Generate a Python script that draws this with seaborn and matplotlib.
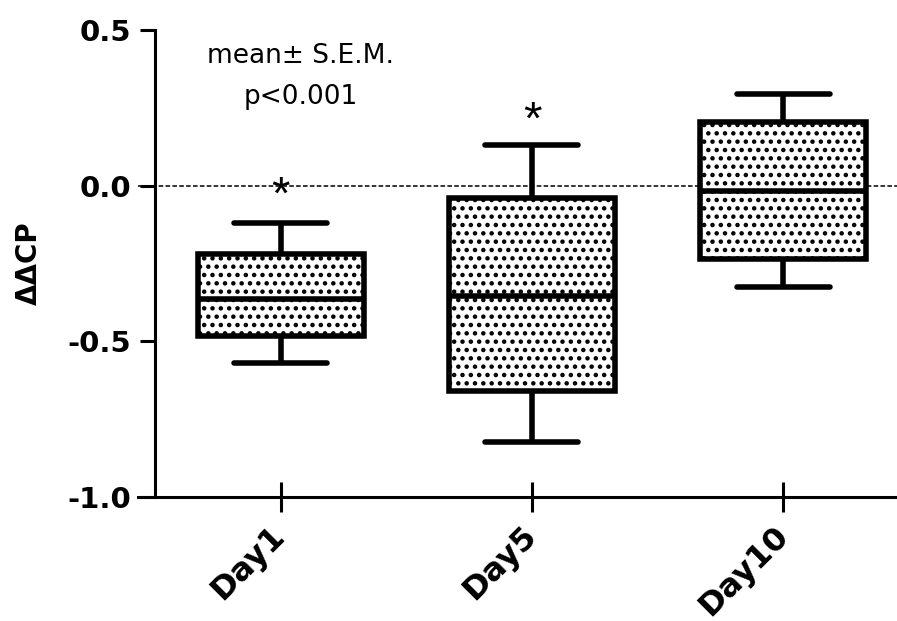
import matplotlib
matplotlib.use("Agg")
import matplotlib.pyplot as plt
import seaborn as sns
import pandas as pd

days = ["Day1", "Day5", "Day10"]
# five-number summaries: whisker low, q1, median, q3, whisker high
day1_vals = [-0.571, -0.482, -0.363, -0.218, -0.119]
day5_vals = [-0.822, -0.658, -0.353, -0.039, 0.130]
day10_vals = [-0.324, -0.234, -0.016, 0.205, 0.295]
star_days = ["Day1", "Day5"]
star_y = [-0.035, 0.205]
note_lines = ["mean\u00b1 S.E.M.", "p<0.001"]

sns.set_style("ticks")
plt.rcParams["font.family"] = ["DejaVu Sans"]
plt.rcParams["hatch.linewidth"] = 2.0
for k in ["text.color", "axes.labelcolor", "xtick.color", "ytick.color", "axes.edgecolor"]:
    plt.rcParams[k] = "black"

df = pd.DataFrame({
    "day": sum([[d] * 5 for d in days], []),
    "ddcp": day1_vals + day5_vals + day10_vals,
})

fig = plt.figure(figsize=(8.97, 6.21), dpi=100)
ax = fig.add_axes([138 / 897, 1 - 497 / 621, 1 - 138 / 897, (497 - 30) / 621])

ax.axhline(0, color="black", lw=1.1, ls=(0, (3, 1.5)), zorder=0)

sns.boxplot(data=df, x="day", y="ddcp", order=days, whis=(0, 100), width=0.66,
            color="white", linecolor="black", linewidth=4, saturation=1,
            showfliers=False, capwidths=0.37, ax=ax)
for p in ax.patches:
    p.set_hatch("..")
    p.set_edgecolor("black")

# spine position first: moving it resets the tick formatting
ax.spines["top"].set_visible(False)
ax.spines["right"].set_visible(False)
ax.spines["left"].set_position(("data", -0.5))
for s in ["left", "bottom"]:
    ax.spines[s].set_linewidth(2.2)

for d, y in zip(star_days, star_y):
    ax.text(days.index(d), y, "*", ha="center", va="center", fontsize=34,
            family="Liberation Sans")

ax.text(0.08, 0.415, note_lines[0], ha="center", va="center", fontsize=19)
ax.text(0.08, 0.285, note_lines[1], ha="center", va="center", fontsize=19)

ax.set_ylim(-1.0, 0.5)
ax.set_xlim(-0.567, 2.452)
ax.set_yticks([-1.0, -0.5, 0.0, 0.5])
ax.set_yticklabels(["-1.0", "-0.5", "0.0", "0.5"], fontsize=21, fontweight="bold")
ax.set_xticks(range(len(days)))
ax.set_xticklabels(days, fontsize=23, fontweight="bold", rotation=45,
                   ha="right", va="center", rotation_mode="anchor")

ax.tick_params(axis="y", direction="out", length=11, width=2.2, pad=6)
ax.tick_params(axis="x", direction="inout", length=21, width=2.2, pad=14)

ax.set_xlabel("")
ax.set_ylabel("\u0394\u0394CP", fontsize=20, fontweight="bold", labelpad=18)

fig.savefig("out.png", dpi=100)
